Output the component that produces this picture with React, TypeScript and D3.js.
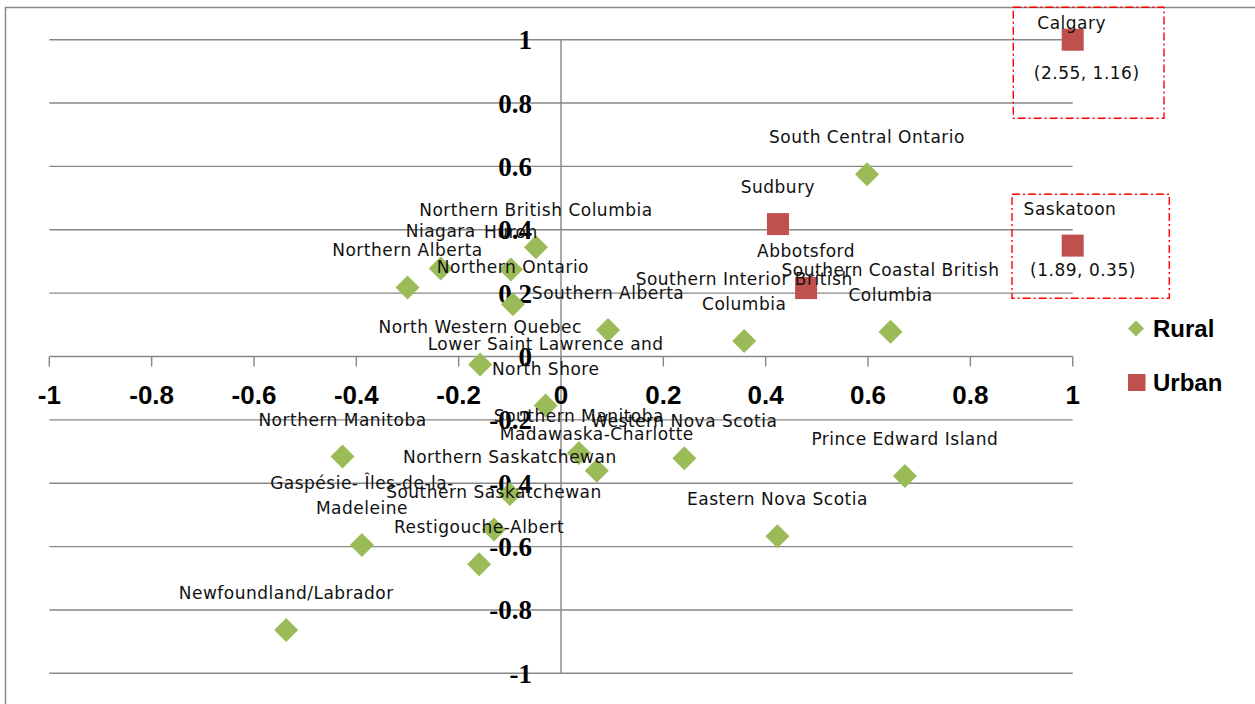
import React from 'react';
import * as d3 from 'd3';

// ---------- data ----------
const ruralNames = [
  'South Central Ontario',
  'Southern Coastal British\nColumbia',
  'Prince Edward Island',
  'Eastern Nova Scotia',
  'Western Nova Scotia',
  'Southern Interior British\nColumbia',
  'Southern Alberta',
  'Northern British Columbia',
  'Huron',
  'Niagara',
  'Northern Alberta',
  'Northern Ontario',
  'North Western Quebec',
  'Lower Saint Lawrence and\nNorth Shore',
  'Northern Manitoba',
  'Southern Manitoba',
  'Madawaska-Charlotte',
  'Northern Saskatchewan',
  'Gaspésie- Îles-de-la-\nMadeleine',
  'Southern Saskatchewan',
  'Restigouche-Albert',
  'Newfoundland/Labrador',
];
const ruralX = [0.598, 0.644, 0.672, 0.423, 0.241, 0.358, 0.092, -0.049, -0.098, -0.235, -0.300, -0.094, -0.158, -0.030, -0.427, 0.035, 0.070, -0.100, -0.389, -0.131, -0.160, -0.537];
const ruralY = [0.575, 0.078, -0.377, -0.567, -0.321, 0.049, 0.084, 0.345, 0.275, 0.278, 0.218, 0.165, -0.025, -0.155, -0.316, -0.305, -0.361, -0.434, -0.595, -0.546, -0.656, -0.863];

const urbanNames = ['Calgary', 'Saskatoon', 'Sudbury', 'Abbotsford'];
const urbanX = [2.55, 1.89, 0.424, 0.479];
const urbanY = [1.16, 0.35, 0.418, 0.216];

const seriesNames = ['Rural', 'Urban'];
const xTicks = [-1, -0.8, -0.6, -0.4, -0.2, 0, 0.2, 0.4, 0.6, 0.8, 1];
const yTicks = [-1, -0.8, -0.6, -0.4, -0.2, 0, 0.2, 0.4, 0.6, 0.8, 1];
const tickLabels = ['-1', '-0.8', '-0.6', '-0.4', '-0.2', '0', '0.2', '0.4', '0.6', '0.8', '1'];

// ---------- layout (not data) ----------
// annotation layout for off-scale points, relative to the clamped marker
const offScaleLayout: Record<string, { nameDx: number; nameDy: number; coordDx: number; coordDy: number; box: [number, number, number, number] }> = {
  Calgary: { nameDx: -1, nameDy: -10.4, coordDx: 14, coordDy: 39.6, box: [-59.4, -32.4, 150.7, 111] },
  Saskatoon: { nameDx: -2.7, nameDy: -30.6, coordDx: 10.3, coordDy: 30.4, box: [-60.7, -51.3, 157.3, 104] },
};

const W = 1255;
const H = 704;
const GREEN = '#9BBB59';
const RED = '#C0504D';
const GRID = '#878787';
const LABEL_FONT = '"DejaVu Sans", sans-serif';

export default function App() {
  const x = d3.scaleLinear().domain([-1, 1]).range([49.3, 1072.7]);
  const y = d3.scaleLinear().domain([-1, 1]).range([673.3, 39.7]);
  const xc = x.copy().clamp(true);
  const yc = y.copy().clamp(true);

  const diamond = (cx: number, cy: number, r: number) => {
    const p = d3.path();
    p.moveTo(cx, cy - r);
    p.lineTo(cx + r, cy);
    p.lineTo(cx, cy + r);
    p.lineTo(cx - r, cy);
    p.closePath();
    return p.toString();
  };

  const dataLabel = (name: string, cx: number, cy: number, key: string) => {
    const lines = name.split('\n');
    const n = lines.length;
    return (
      <text key={key} fontFamily={LABEL_FONT} fontSize={17} fill="#111" textAnchor="middle" letterSpacing={0.5}>
        {lines.map((ln, i) => (
          <tspan key={i} x={cx} y={cy - 31 - (n - 1 - i) * 24.5}>{ln}</tspan>
        ))}
      </text>
    );
  };

  const x0 = x(0);
  const y0 = y(0);

  return (
    <svg width={W} height={H} style={{ position: 'absolute', left: 0, top: 0, background: '#fff' }}>
      <rect x={0} y={0} width={W} height={H} fill="#fff" />
      {/* outer chart border */}
      <rect x={5.5} y={7.5} width={1400} height={900} fill="none" stroke="#8a8a8a" strokeWidth={1.5} />

      {/* horizontal gridlines */}
      {yTicks.map((t) => (
        <line key={'g' + t} x1={x(-1)} x2={x(1)} y1={y(t)} y2={y(t)} stroke={GRID} strokeWidth={1.4} />
      ))}
      {/* y axis */}
      <line x1={x0} x2={x0} y1={y(1)} y2={y(-1)} stroke={GRID} strokeWidth={1.4} />
      {/* x axis ticks */}
      {xTicks.map((t) => (
        <line key={'t' + t} x1={x(t)} x2={x(t)} y1={y0} y2={y0 + 10} stroke={GRID} strokeWidth={1.4} />
      ))}

      {/* x tick labels */}
      {xTicks.map((t, i) => (
        <text key={'xl' + t} x={x(t)} y={y0 + 47} textAnchor="middle"
          fontFamily='"Liberation Sans", Arial, sans-serif' fontWeight="bold" fontSize={26} fill="#000">
          {tickLabels[i]}
        </text>
      ))}
      {/* y tick labels */}
      {yTicks.map((t, i) => (
        <text key={'yl' + t} x={x0 - 29} y={y(t) + 9.5} textAnchor="end"
          fontFamily='"Liberation Serif", serif' fontWeight="bold" fontSize={27} fill="#000">
          {tickLabels[i]}
        </text>
      ))}

      {/* rural markers */}
      {ruralX.map((v, i) => (
        <path key={'r' + i} d={diamond(x(v), y(ruralY[i]), 12)} fill={GREEN} />
      ))}
      {/* urban markers */}
      {urbanX.map((v, i) => (
        <rect key={'u' + i} x={xc(v) - 11} y={yc(urbanY[i]) - 11} width={22} height={22} fill={RED} />
      ))}

      {/* rural labels */}
      {ruralNames.map((nm, i) => dataLabel(nm, x(ruralX[i]), y(ruralY[i]), 'rl' + i))}

      {/* urban labels */}
      {urbanNames.map((nm, i) => {
        const cx = xc(urbanX[i]);
        const cy = yc(urbanY[i]);
        const off = urbanX[i] > 1 || urbanX[i] < -1 || urbanY[i] > 1 || urbanY[i] < -1;
        if (!off) return dataLabel(nm, cx, cy, 'ul' + i);
        const L = offScaleLayout[nm];
        return (
          <g key={'ul' + i} fontFamily={LABEL_FONT} fontSize={17} fill="#111" textAnchor="middle" letterSpacing={0.5}>
            <rect x={cx + L.box[0]} y={cy + L.box[1]} width={L.box[2]} height={L.box[3]}
              fill="none" stroke="#ff0000" strokeWidth={1.4} strokeDasharray="8 3 2 3" />
            <text x={cx + L.nameDx} y={cy + L.nameDy}>{nm}</text>
            <text x={cx + L.coordDx} y={cy + L.coordDy}>
              {`(${urbanX[i].toFixed(2)}, ${urbanY[i].toFixed(2)})`}
            </text>
          </g>
        );
      })}

      {/* legend */}
      <g fontFamily='"Liberation Sans", Arial, sans-serif' fontWeight="bold" fontSize={24} fill="#000">
        <path d={diamond(1136, 328.5, 8)} fill={GREEN} />
        <text x={1153} y={337.3}>{seriesNames[0]}</text>
        <rect x={1128} y={374} width={17.5} height={17} fill={RED} />
        <text x={1153} y={390.7}>{seriesNames[1]}</text>
      </g>
    </svg>
  );
}
